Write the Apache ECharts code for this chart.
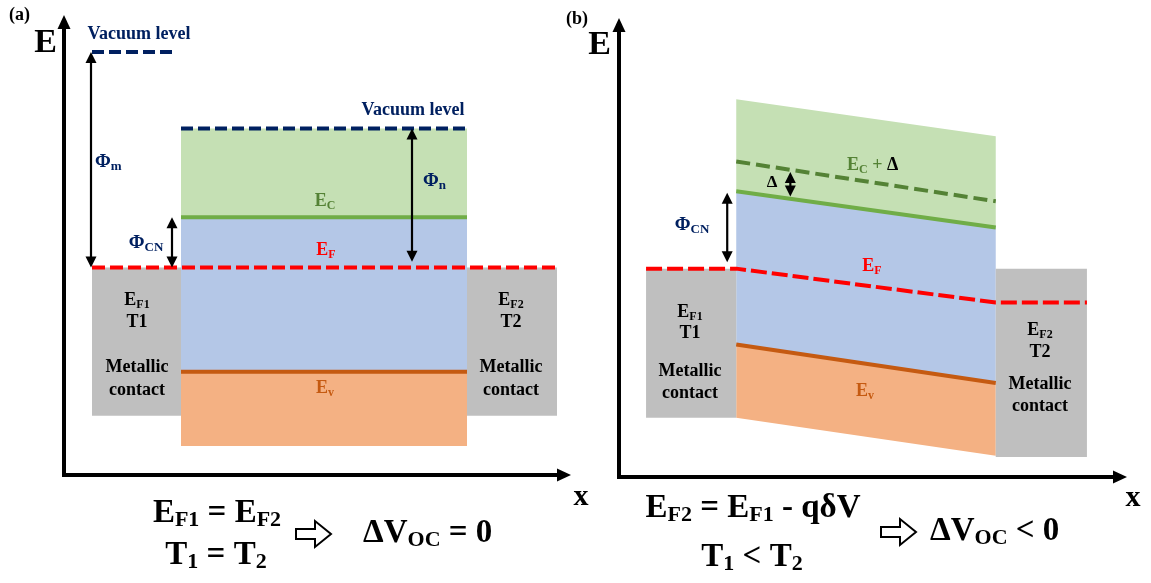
<!DOCTYPE html>
<html>
<head>
<meta charset="utf-8">
<script src="https://cdn.jsdelivr.net/npm/echarts@6/dist/echarts.min.js"></script>
<style>
  html, body { margin: 0; padding: 0; background: #fff; }
  #main { width: 1151px; height: 583px; }
</style>
</head>
<body>
<div id="main"></div>
<script>
// ---- (a) equilibrium, flat bands (position / energy in arbitrary units) ----
var aX = [0.56, 2.34, 8.06, 9.86];      // left contact | semiconductor | right contact edges
var aVacMetalX = [0.56, 2.26];
var aVacMetal = 9.34;
var aVacSemi = 7.65;
var aEc = 5.69;
var aEf = 4.58;
var aEv = 2.28;
var aBandBottom = 0.64;
var aContactBottom = 1.31;
// double arrows: [x, top, bottom]
var aArrows = [[0.54, aVacMetal, aEf], [2.16, aEc, aEf], [6.96, aVacSemi, 4.71]];

// ---- (b) T1 < T2, tilted bands: values at semiconductor left / right edge ----
var bX = [0.54, 2.34, 7.52, 9.34];
var bTop = [8.36, 7.54];
var bEcDelta = [6.98, 6.10];
var bEc = [6.32, 5.52];
var bEf = [4.61, 3.86];                 // EF1 (left contact), EF2 (right contact)
var bEv = [2.93, 2.08];
var bBottom = [1.31, 0.47];
var bContactTop = 4.61;
var bContactBottom = [1.31, 0.44];
var bArrowX = [2.16, 3.42];             // ΦCN, Δ

var SERIF = '"Liberation Serif", "Times New Roman", serif';
var NAVY = '#002060', RED = '#ff0000', GREEN = '#70ad47', DKGREEN = '#548235', ORANGE = '#c55a11';

function lerp(v, x) {
  return v[0] + (v[1] - v[0]) * (x - bX[1]) / (bX[2] - bX[1]);
}

function bandItem(params, api) {
  var x0 = api.value(0), x1 = api.value(1);
  var pts = [
    api.coord([x0, api.value(2)]), api.coord([x1, api.value(3)]),
    api.coord([x1, api.value(5)]), api.coord([x0, api.value(4)])
  ];
  return { type: 'polygon', shape: { points: pts }, style: { fill: api.visual('color') } };
}

function arrowItem(params, api) {
  var p0 = api.coord([api.value(0), api.value(1)]);
  var p1 = api.coord([api.value(0), api.value(2)]);
  var h = 11, w = 5.5;
  return {
    type: 'group',
    children: [
      { type: 'line', shape: { x1: p0[0], y1: p0[1] + h - 1, x2: p1[0], y2: p1[1] - h + 1 }, style: { stroke: '#000', lineWidth: 2.2 } },
      { type: 'polygon', shape: { points: [[p0[0], p0[1]], [p0[0] - w, p0[1] + h], [p0[0] + w, p0[1] + h]] }, style: { fill: '#000' } },
      { type: 'polygon', shape: { points: [[p1[0], p1[1]], [p1[0] - w, p1[1] - h], [p1[0] + w, p1[1] - h]] }, style: { fill: '#000' } }
    ]
  };
}

function band(g, color, data) {
  return { type: 'custom', xAxisIndex: g, yAxisIndex: g, renderItem: bandItem, itemStyle: { color: color }, data: data, z: 1, silent: true };
}
function level(g, color, width, dash, pts) {
  return {
    type: 'line', xAxisIndex: g, yAxisIndex: g, data: pts, symbol: 'none', clip: false, z: 3, silent: true,
    lineStyle: { color: color, width: width, type: dash || 'solid', cap: 'butt' }
  };
}
function arrows(g, data) {
  return { type: 'custom', xAxisIndex: g, yAxisIndex: g, renderItem: arrowItem, data: data, z: 4, silent: true };
}

function axis(g) {
  return {
    gridIndex: g, type: 'value', min: 0, max: 10,
    axisLine: { show: true, onZero: false, symbol: ['none', 'triangle'], symbolSize: [13, 14], lineStyle: { color: '#000', width: 4, cap: 'square' } },
    axisTick: { show: false }, axisLabel: { show: false }, splitLine: { show: false }
  };
}

// rich-text helpers
function rich(color, size, sub) {
  return {
    m: { fill: color, fontFamily: SERIF, fontWeight: 'bold', fontSize: size, lineHeight: size + 4 },
    s: { fill: color, fontFamily: SERIF, fontWeight: 'bold', fontSize: sub, lineHeight: sub, verticalAlign: 'bottom' },
    k: { fill: '#000', fontFamily: SERIF, fontWeight: 'bold', fontSize: size, lineHeight: size + 4 }
  };
}
function txt(x, y, text, r, align) {
  return { type: 'text', x: x, y: y, z: 10, style: { text: text, rich: r, align: align || 'center', verticalAlign: 'middle' } };
}
function hollowArrow(x0, yc) {
  return {
    type: 'polygon', z: 10,
    shape: { points: [[x0, yc - 5], [x0 + 19, yc - 5], [x0 + 19, yc - 13], [x0 + 35, yc], [x0 + 19, yc + 13], [x0 + 19, yc + 5], [x0, yc + 5]] },
    style: { fill: '#fff', stroke: '#000', lineWidth: 2 }
  };
}

var rBlack = rich('#000', 18, 12);
var rNavy = rich(NAVY, 19, 13);
var rBig = rich('#000', 33, 22);

function contactText(cx, ys, idx) {
  return [
    txt(cx, ys[0], '{m|E}{s|F' + idx + '}', rBlack),
    txt(cx, ys[1], '{m|T' + idx + '}', rBlack),
    txt(cx, ys[2], '{m|Metallic}', rBlack),
    txt(cx, ys[3], '{m|contact}', rBlack)
  ];
}

var labels = [
  // (a)
  txt(9, 15, '{m|(a)}', rich('#000', 18, 12), 'left'),
  txt(57, 43, '{m|E}', rich('#000', 34, 20), 'right'),
  txt(139, 34, '{m|Vacuum level}', rich(NAVY, 18, 12)),
  txt(413, 110, '{m|Vacuum level}', rich(NAVY, 18, 12)),
  txt(95, 162, '{m|Φ}{s|m}', rNavy, 'left'),
  txt(423, 181, '{m|Φ}{s|n}', rNavy, 'left'),
  txt(146, 243, '{m|Φ}{s|CN}', rNavy),
  txt(325, 201, '{m|E}{s|C}', rich(DKGREEN, 18, 12)),
  txt(326, 250, '{m|E}{s|F}', rich(RED, 18, 12)),
  txt(325, 388, '{m|E}{s|v}', rich(ORANGE, 18, 12)),
  txt(581, 497, '{m|x}', rich('#000', 30, 20)),
  txt(217, 513, '{m|E}{s|F1}{m| = E}{s|F2}', rBig),
  txt(216, 555, '{m|T}{s|1}{m| = T}{s|2}', rBig),
  hollowArrow(296, 534),
  txt(363, 533, '{m|ΔV}{s|OC}{m| = 0}', rBig, 'left'),
  // (b)
  txt(566, 19, '{m|(b)}', rich('#000', 18, 12), 'left'),
  txt(611, 45, '{m|E}', rich('#000', 34, 20), 'right'),
  txt(847, 165, '{m|E}{s|C}{m| + }{k|Δ}', rich(DKGREEN, 18, 12), 'left'),
  txt(772, 183, '{m|Δ}', rich('#000', 17, 12)),
  txt(692, 225, '{m|Φ}{s|CN}', rNavy),
  txt(872, 266, '{m|E}{s|F}', rich(RED, 18, 12)),
  txt(865, 391, '{m|E}{s|v}', rich(ORANGE, 18, 12)),
  txt(1133, 498, '{m|x}', rich('#000', 30, 20)),
  txt(753, 508, '{m|E}{s|F2}{m| = E}{s|F1}{m| - qδV}', rBig),
  txt(752, 557, '{m|T}{s|1}{m| < T}{s|2}', rBig),
  hollowArrow(881, 532),
  txt(930, 531, '{m|ΔV}{s|OC}{m| < 0}', rBig, 'left')
].concat(
  contactText(137, [300, 322, 367, 390], 1),
  contactText(511, [300, 322, 367, 390], 2),
  contactText(690, [312, 333, 371, 393], 1),
  contactText(1040, [330, 352, 384, 406], 2)
);

var chart = echarts.init(document.getElementById('main'), null, { renderer: 'canvas' });
chart.setOption({
  backgroundColor: '#fff',
  animation: false,
  grid: [
    { left: 64, top: 22, width: 500, height: 453 },
    { left: 619, top: 25, width: 501, height: 452 }
  ],
  xAxis: [axis(0), axis(1)],
  yAxis: [axis(0), axis(1)],
  graphic: labels,
  series: [
    // (a)
    band(0, '#c5e0b4', [[aX[1], aX[2], aVacSemi, aVacSemi, aEc, aEc]]),
    band(0, '#b4c7e7', [[aX[1], aX[2], aEc, aEc, aEv, aEv]]),
    band(0, '#f4b183', [[aX[1], aX[2], aEv, aEv, aBandBottom, aBandBottom]]),
    band(0, '#bfbfbf', [[aX[0], aX[1], aEf, aEf, aContactBottom, aContactBottom],
                        [aX[2], aX[3], aEf, aEf, aContactBottom, aContactBottom]]),
    level(0, GREEN, 4, null, [[aX[1], aEc], [aX[2], aEc]]),
    level(0, ORANGE, 4, null, [[aX[1], aEv], [aX[2], aEv]]),
    level(0, NAVY, 4, [12, 5], [[aVacMetalX[0], aVacMetal], [aVacMetalX[1], aVacMetal]]),
    level(0, NAVY, 4, [12, 5], [[aX[1], aVacSemi], [aX[2], aVacSemi]]),
    level(0, RED, 4, [13, 5], [[aX[0], aEf], [aX[3], aEf]]),
    arrows(0, aArrows),
    // (b)
    band(1, '#c5e0b4', [[bX[1], bX[2], bTop[0], bTop[1], bEc[0], bEc[1]]]),
    band(1, '#b4c7e7', [[bX[1], bX[2], bEc[0], bEc[1], bEv[0], bEv[1]]]),
    band(1, '#f4b183', [[bX[1], bX[2], bEv[0], bEv[1], bBottom[0], bBottom[1]]]),
    band(1, '#bfbfbf', [[bX[0], bX[1], bContactTop, bContactTop, bContactBottom[0], bContactBottom[0]],
                        [bX[2], bX[3], bContactTop, bContactTop, bContactBottom[1], bContactBottom[1]]]),
    level(1, GREEN, 4, null, [[bX[1], bEc[0]], [bX[2], bEc[1]]]),
    level(1, ORANGE, 4, null, [[bX[1], bEv[0]], [bX[2], bEv[1]]]),
    level(1, DKGREEN, 4, [14, 6], [[bX[1], bEcDelta[0]], [bX[2], bEcDelta[1]]]),
    level(1, RED, 4, [16, 5], [[bX[0], bEf[0]], [bX[1], bEf[0]], [bX[2], bEf[1]], [bX[3], bEf[1]]]),
    arrows(1, [
      [bArrowX[0], bEc[0] - 0.03, bEf[0] + 0.14],
      [bArrowX[1], lerp(bEcDelta, bArrowX[1]) - 0.05, lerp(bEc, bArrowX[1]) + 0.05]
    ])
  ]
});
</script>
</body>
</html>
